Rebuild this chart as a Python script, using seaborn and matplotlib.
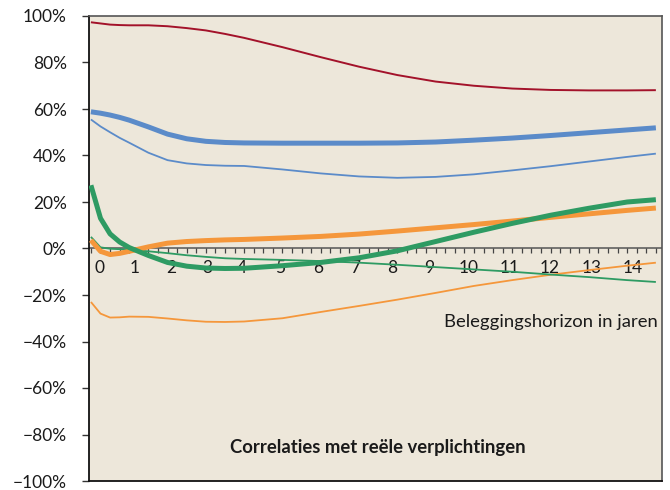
import numpy as np
import pandas as pd
import matplotlib
matplotlib.use('Agg')
import matplotlib.pyplot as plt
import seaborn as sns

# Investment horizon (years)
horizon = [0, 0.25, 0.5, 0.75, 1, 1.5, 2, 2.5, 3, 3.5, 4, 5, 6, 7, 8, 9, 10, 11, 12, 13, 14, 14.75]

# Correlations with real liabilities (%)
red_thin = [97.3, 96.8, 96.3, 96.1, 96.0, 96.0, 95.6, 94.8, 93.8, 92.3, 90.6, 86.6, 82.3, 78.2, 74.6, 71.8, 70.0, 68.8, 68.2, 68.0, 68.0, 68.1]
blue_thick = [58.8, 58.2, 57.4, 56.4, 55.2, 52.3, 49.2, 47.2, 46.1, 45.6, 45.4, 45.3, 45.3, 45.3, 45.4, 45.8, 46.6, 47.5, 48.6, 49.8, 51.0, 51.9]
blue_thin = [55.5, 52.5, 50.0, 47.6, 45.5, 41.2, 38.0, 36.6, 35.9, 35.6, 35.5, 34.0, 32.3, 31.0, 30.4, 30.8, 31.9, 33.6, 35.4, 37.4, 39.4, 40.8]
green_thick = [27.2, 13.0, 6.3, 2.8, 0.4, -3.0, -6.0, -7.6, -8.4, -8.6, -8.5, -7.4, -6.0, -4.0, -1.0, 3.0, 7.0, 10.8, 14.3, 17.3, 20.0, 21.0]
green_thin = [5.0, 0.5, -0.1, -0.3, -0.5, -1.2, -2.0, -2.9, -3.6, -4.2, -4.5, -4.9, -5.4, -6.1, -7.0, -8.0, -9.0, -10.0, -11.2, -12.3, -13.6, -14.4]
orange_thick = [3.6, -1.2, -2.6, -2.1, -1.2, 0.7, 2.3, 3.0, 3.4, 3.7, 3.9, 4.5, 5.2, 6.2, 7.5, 8.9, 10.3, 11.8, 13.4, 14.9, 16.4, 17.4]
orange_thin = [-23.0, -28.0, -29.7, -29.6, -29.3, -29.4, -30.1, -30.9, -31.5, -31.6, -31.4, -30.0, -27.3, -24.7, -22.0, -19.1, -16.1, -13.6, -11.3, -9.3, -7.4, -6.1]

year_labels = ['0', '1', '2', '3', '4', '5', '6', '7', '8', '9', '10', '11', '12', '13', '14']
year_label_pos = [0.23, 1.15, 2.09, 3.03, 3.94, 4.94, 5.93, 6.89, 7.86, 8.82, 9.87, 10.94, 11.98, 13.08, 14.15]
y_ticks = [-100, -80, -60, -40, -20, 0, 20, 40, 60, 80, 100]

series = [
    ('red_thin', red_thin, '#A3122A', 1.4),
    ('blue_thin', blue_thin, '#5B8BC9', 1.3),
    ('blue_thick', blue_thick, '#5B8BC9', 3.6),
    ('orange_thin', orange_thin, '#F5973B', 1.3),
    ('green_thin', green_thin, '#2E9B63', 1.3),
    ('orange_thick', orange_thick, '#F5973B', 3.6),
    ('green_thick', green_thick, '#2E9B63', 3.6),
]

sns.set_style('white')
plt.rcParams['font.family'] = ['Lato', 'DejaVu Sans']

fig = plt.figure(figsize=(6.7, 4.9), dpi=100)
fig.patch.set_facecolor('white')
ax = fig.add_axes([89 / 670, 1 - 481 / 490, (662 - 89) / 670, (481 - 16) / 490])
ax.set_facecolor('#EDE7DA')

for name, vals, color, lw in series:
    df = pd.DataFrame({'horizon': horizon, 'corr': vals})
    sns.lineplot(data=df, x='horizon', y='corr', color=color, linewidth=lw,
                 ax=ax, zorder=3, solid_capstyle='butt', solid_joinstyle='round')

ax.set_xlim(-0.05, 14.91)
ax.set_ylim(-100, 100)

# zero axis with small quarterly ticks below it
ax.axhline(0, color='#555555', linewidth=1.1, zorder=2)
qticks = np.arange(0, 14.8, 0.25)
ax.vlines(qticks, -1.8, 0, color='#444444', linewidth=0.9, zorder=2)

for lab, pos in zip(year_labels, year_label_pos):
    ax.text(pos, -8.6, lab, ha='center', va='center', fontsize=12.5, color='#1a1a1a', zorder=1)

ax.set_xticks([])
ax.set_yticks(y_ticks)
ax.set_yticklabels([f'{v}%'.replace('-', '\u2212') for v in y_ticks])
ax.tick_params(axis='y', direction='out', length=5, width=1, color='#333333',
               labelsize=12.5, labelcolor='#1a1a1a', pad=11, left=True)
ax.set_xlabel('')
ax.set_ylabel('')

for side in ['left', 'bottom']:
    ax.spines[side].set_color('#111111')
    ax.spines[side].set_linewidth(1.3)
for side in ['top', 'right']:
    ax.spines[side].set_color('#555555')
    ax.spines[side].set_linewidth(1.2)

ax.text(14.8, -31.8, 'Beleggingshorizon in jaren', ha='right', va='center',
        fontsize=13.3, color='#1a1a1a')
ax.text(7.5, -85.8, 'Correlaties met reële verplichtingen', ha='center', va='center',
        fontsize=13.3, fontweight='bold', color='#1a1a1a')

fig.savefig('out.png', dpi=100, facecolor=fig.get_facecolor())
